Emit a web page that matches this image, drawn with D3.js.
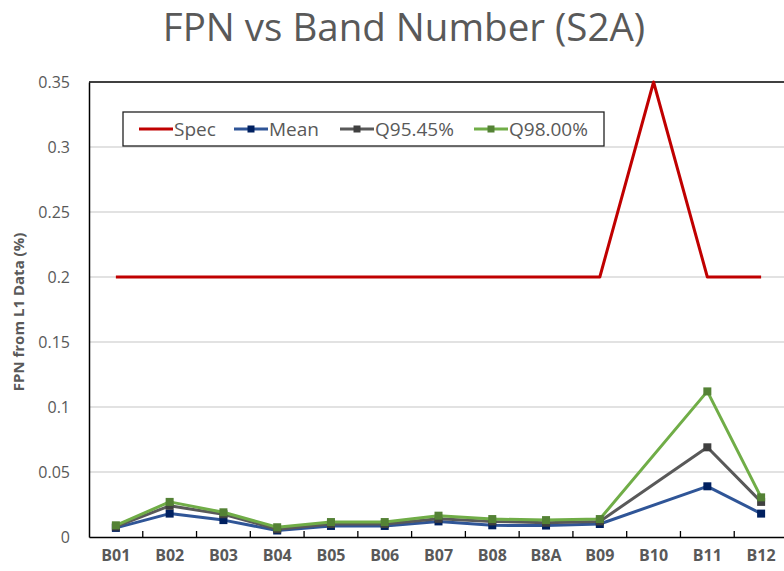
<!DOCTYPE html>
<html><head><meta charset="utf-8">
<script src="https://cdn.jsdelivr.net/npm/d3@7"></script>
<style>html,body{margin:0;padding:0;background:#fff;overflow:hidden}svg{display:block}</style>
</head><body>
<svg id="c" width="784" height="571"></svg>
<script>
const categories = ["B01","B02","B03","B04","B05","B06","B07","B08","B8A","B09","B10","B11","B12"];
const spec   = [0.2,0.2,0.2,0.2,0.2,0.2,0.2,0.2,0.2,0.2,0.35,0.2,0.2];
const mean   = [0.007,0.018,0.013,0.005,0.0085,0.0085,0.012,0.009,0.0088,0.010,null,0.039,0.018];
const q9545  = [0.008,0.024,0.0175,0.006,0.010,0.010,0.014,0.012,0.011,0.012,null,0.069,0.027];
const q9800  = [0.009,0.027,0.019,0.0075,0.0115,0.0115,0.0164,0.0138,0.013,0.0138,null,0.112,0.0305];
const yTicks = [0,0.05,0.1,0.15,0.2,0.25,0.3,0.35];
const yTickLabels = ["0","0.05","0.1","0.15","0.2","0.25","0.3","0.35"];
const seriesNames = ["Spec","Mean","Q95.45%","Q98.00%"];

const FONT = "'Open Sans', 'Liberation Sans', sans-serif";
const svg = d3.select("#c");
const L = 89, R = 788, T = 82, B = 537;
const x = d3.scaleBand().domain(categories).range([L, R]).padding(0);
const y = d3.scaleLinear().domain([0, 0.35]).range([B, T]);

// title
svg.append("text").attr("x", 404).attr("y", 41).attr("text-anchor","middle")
  .attr("font-family", FONT).attr("font-size", 38.5).attr("fill","#595959")
  .text("FPN vs Band Number (S2A)");

// gridlines
svg.append("g").selectAll("line").data(yTicks.filter(d=>d>0 && d<0.35)).join("line")
  .attr("x1", L).attr("x2", R).attr("y1", d=>y(d)).attr("y2", d=>y(d))
  .attr("stroke","#d9d9d9").attr("stroke-width",1.3);

// top border
svg.append("line").attr("x1",L).attr("x2",R).attr("y1",y(0.35)).attr("y2",y(0.35))
  .attr("stroke","#000").attr("stroke-width",1.3);

// y axis
const yAxis = d3.axisLeft(y).tickValues(yTicks).tickSize(0).tickPadding(19)
  .tickFormat((d,i)=>yTickLabels[i]);
const gy = svg.append("g").attr("transform",`translate(${L},0)`).call(yAxis);
gy.select(".domain").attr("stroke","#000").attr("stroke-width",1.5);
gy.selectAll("text").attr("font-family",FONT).attr("font-size",16).attr("fill","#595959");

// x axis
const xAxis = d3.axisBottom(x).tickSize(0).tickPadding(13);
const gx = svg.append("g").attr("transform",`translate(0,${B})`).call(xAxis);
gx.select(".domain").attr("stroke","#000").attr("stroke-width",1.5);
gx.selectAll("text").attr("font-family",FONT).attr("font-size",16).attr("font-weight","bold").attr("fill","#595959");
// boundary tick marks
gx.append("g").selectAll("line").data(categories.slice(1)).join("line")
  .attr("x1", d=>x(d)).attr("x2", d=>x(d)).attr("y1",0).attr("y2",-6)
  .attr("stroke","#000").attr("stroke-width",1.3);

// y label
svg.append("text").attr("transform",`translate(24,${312}) rotate(-90)`).attr("text-anchor","middle")
  .attr("font-family",FONT).attr("font-size",15).attr("font-weight","bold").attr("fill","#595959")
  .text("FPN from L1 Data (%)");

const cx = d => x(d) + x.bandwidth()/2;
const series = [
  {name: seriesNames[0], vals: spec, line:"#c00000", marker:null},
  {name: seriesNames[1], vals: mean, line:"#2f5597", marker:"#002060"},
  {name: seriesNames[2], vals: q9545, line:"#595959", marker:"#404040"},
  {name: seriesNames[3], vals: q9800, line:"#70ad47", marker:"#548235"}
];
const lineGen = d3.line().x(d=>cx(d.c)).y(d=>y(d.v));
const plot = svg.append("g");
series.forEach(s => {
  const pts = categories.map((c,i)=>({c, v:s.vals[i]})).filter(d=>d.v!==null);
  plot.append("path").datum(pts).attr("d", lineGen).attr("fill","none")
    .attr("stroke", s.line).attr("stroke-width",3).attr("stroke-linejoin","round");
  if (s.marker) {
    plot.append("g").selectAll("rect").data(pts).join("rect")
      .attr("x", d=>cx(d.c)-4).attr("y", d=>y(d.v)-4).attr("width",8).attr("height",8)
      .attr("fill", s.marker);
  }
});

// legend
const lg = svg.append("g");
lg.append("rect").attr("x",123).attr("y",112).attr("width",481).attr("height",34)
  .attr("fill","#fff").attr("stroke","#222").attr("stroke-width",1.3);
const items = [
  {x1:139, s:series[0]},
  {x1:234, s:series[1]},
  {x1:340, s:series[2]},
  {x1:474, s:series[3]}
];
items.forEach(it => {
  lg.append("line").attr("x1",it.x1).attr("x2",it.x1+34).attr("y1",129).attr("y2",129)
    .attr("stroke",it.s.line).attr("stroke-width",3);
  if (it.s.marker) lg.append("rect").attr("x",it.x1+17-3.5).attr("y",129-3.5).attr("width",7).attr("height",7).attr("fill",it.s.marker);
  lg.append("text").attr("x",it.x1+35).attr("y",136).attr("font-family",FONT).attr("font-size",19)
    .attr("fill","#595959").text(it.s.name);
});
</script>
</body></html>
